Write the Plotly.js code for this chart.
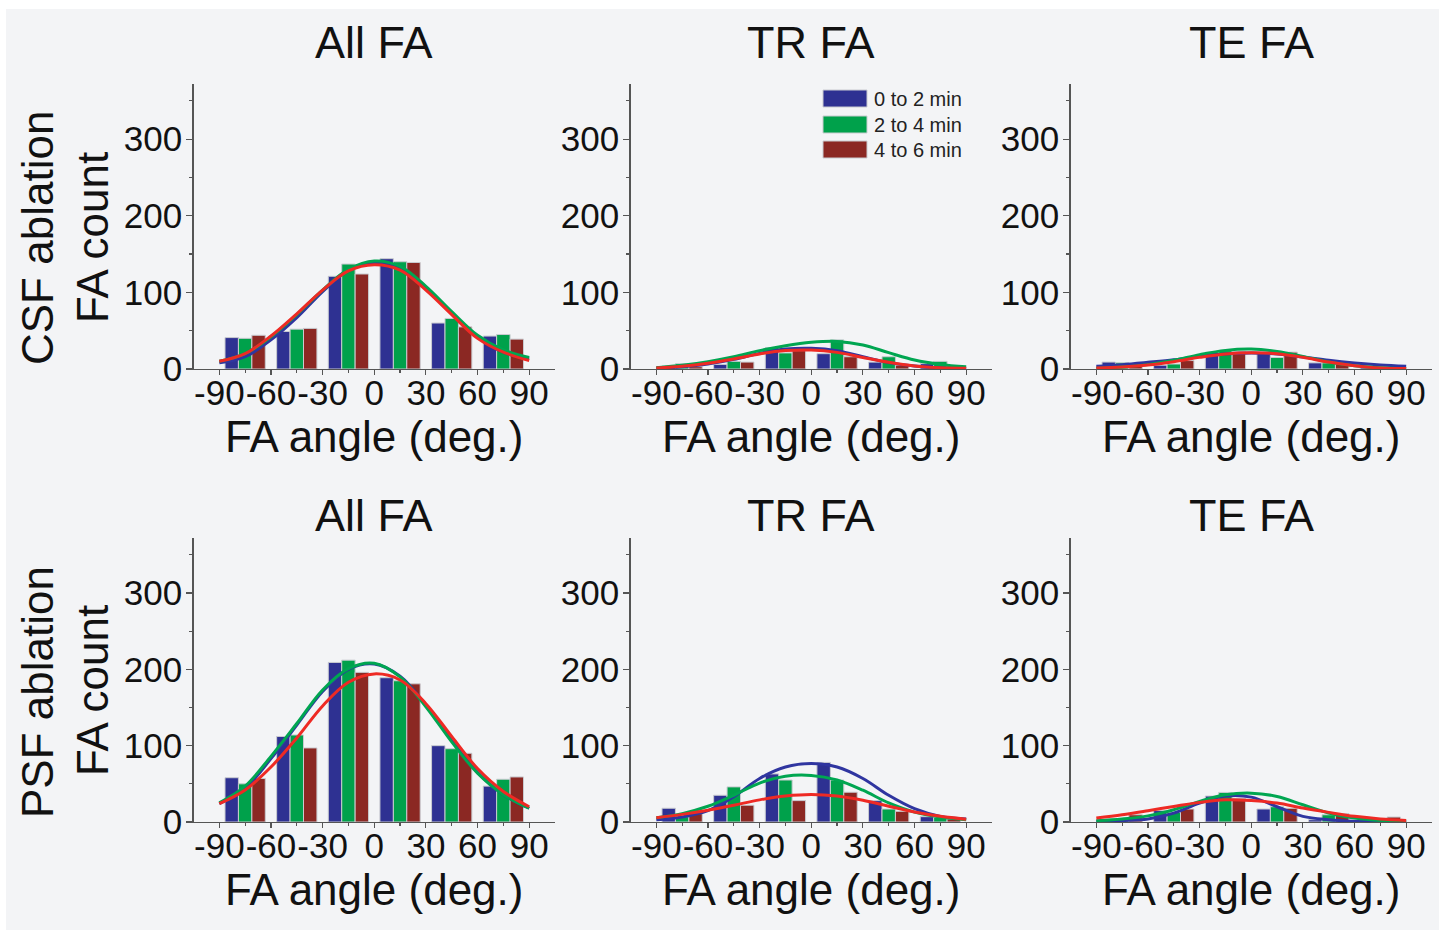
<!DOCTYPE html>
<html>
<head>
<meta charset="utf-8">
<script src="https://cdn.plot.ly/plotly-3.0.1.min.js"></script>
<style>
  html, body { margin: 0; padding: 0; background: #ffffff; }
  #chart { position: absolute; left: 6px; top: 9px; width: 1433px; height: 921px; }
</style>
</head>
<body>
<div id="chart"></div>
<script>
// ---------------- DATA ----------------
const binCenters = [-75, -45, -15, 15, 45, 75];
const fitX = [-90, -75, -60, -45, -30, -15, 0, 15, 30, 45, 60, 75, 90];
const xTickVals = [-90, -60, -30, 0, 30, 60, 90];
const xTickText = ['-90', '-60', '-30', '0', '30', '60', '90'];
const yTickVals = [0, 100, 200, 300];
const yTickText = ['0', '100', '200', '300'];
const seriesNames = ['0 to 2 min', '2 to 4 min', '4 to 6 min'];
const panelTitles = ['All FA', 'TR FA', 'TE FA'];
const rowTitles = ['CSF ablation', 'PSF ablation'];
const yTitle = 'FA count';
const xTitle = 'FA angle (deg.)';

// CSF ablation, All FA
const csfAllBlue  = [41, 49, 121, 144, 60, 43];
const csfAllGreen = [40, 52, 137, 140, 66, 45];
const csfAllRed   = [44, 53, 124, 139, 55, 39];
const csfAllFitBlue  = [8, 16, 38, 67, 101, 129, 139, 133, 106, 73, 42, 22, 13];
const csfAllFitGreen = [10, 20, 42, 71, 103, 130, 141, 134, 108, 75, 44, 25, 15];
const csfAllFitRed   = [10, 20, 43, 72, 103, 128, 136, 129, 103, 71, 40, 22, 11];

// CSF ablation, TR FA
const csfTrBlue  = [4, 6, 28, 20, 9, 7];
const csfTrGreen = [7, 10, 21, 38, 16, 10];
const csfTrRed   = [3, 9, 24, 16, 5, 4];
const csfTrFitBlue  = [1.3, 3, 6.5, 12.6, 20.4, 26, 27, 24, 16, 8.3, 4, 1.7, 1];
const csfTrFitGreen = [1.7, 4.8, 9.6, 16, 24, 30.4, 34.8, 36, 31.3, 21.3, 11.7, 6, 3];
const csfTrFitRed   = [1.3, 3.5, 7.4, 13, 19.6, 24, 24.8, 21.7, 15, 8.7, 4, 1.7, 1];

// CSF ablation, TE FA
const csfTeBlue  = [9, 5, 22, 21, 8, 2];
const csfTeGreen = [8, 6.5, 24, 15, 8, 2];
const csfTeRed   = [3.5, 11, 23, 22, 6.5, 2.6];
const csfTeFitBlue  = [3.5, 5.7, 8.7, 12, 16.5, 19.6, 21, 19.6, 15.7, 11.3, 7.8, 5.2, 3.5];
const csfTeFitGreen = [1, 2.6, 5.7, 11.3, 18.7, 24.3, 26, 23, 16.5, 9, 4.3, 1.7, 0.5];
const csfTeFitRed   = [1.3, 2.6, 5.2, 9.6, 15.2, 19.6, 21.3, 20, 15.2, 9, 4.3, 1.3, 0.5];

// PSF ablation, All FA
const psfAllBlue  = [58, 112, 209, 189, 100, 47];
const psfAllGreen = [50, 114, 212, 185, 96, 56];
const psfAllRed   = [57, 97, 196, 181, 90, 59];
const psfAllFitBlue  = [24, 44, 83, 127, 171, 200, 207, 191, 153, 107, 65, 36, 18];
const psfAllFitGreen = [25, 47, 86, 129, 173, 201, 208, 190, 151, 105, 64, 36, 18];
const psfAllFitRed   = [24, 42, 72, 110, 152, 183, 194, 186, 155, 112, 70, 40, 20];

// PSF ablation, TR FA
const psfTrBlue  = [18, 35, 63, 78, 28, 7];
const psfTrGreen = [7, 46, 55, 55, 17, 6];
const psfTrRed   = [11, 22, 28, 39, 14, 4];
const psfTrFitBlue  = [3, 6.6, 15, 33, 57, 72, 76.6, 72, 57, 35, 17.5, 7.4, 4];
const psfTrFitGreen = [5.7, 11, 20.6, 35, 51, 60, 61, 55, 41.6, 25, 13, 6.6, 3];
const psfTrFitRed   = [5.7, 10, 15.3, 22, 29, 34, 36, 34, 28.4, 20.6, 13, 7.4, 3.5];

// PSF ablation, TE FA
const psfTeBlue  = [2, 15, 34, 17, 3, 2];
const psfTeGreen = [3, 12.6, 38.7, 20, 9.5, 4];
const psfTeRed   = [9.5, 17, 31, 18, 11, 6.5];
const psfTeFitBlue  = [1, 2, 4, 11.7, 24.8, 34, 32.6, 20, 7.4, 3, 1, 0.5, 0.3];
const psfTeFitGreen = [1.7, 4, 8, 16, 27, 35.6, 37.8, 33.5, 22.6, 11.7, 5.2, 2, 1];
const psfTeFitRed   = [5.2, 9.5, 14.8, 20.4, 25.7, 29, 28, 24.8, 18.3, 12.6, 7.4, 4, 2];

const panels = [
  {bars: [csfAllBlue, csfAllGreen, csfAllRed], fits: [csfAllFitBlue, csfAllFitGreen, csfAllFitRed]},
  {bars: [csfTrBlue, csfTrGreen, csfTrRed],    fits: [csfTrFitBlue, csfTrFitGreen, csfTrFitRed]},
  {bars: [csfTeBlue, csfTeGreen, csfTeRed],    fits: [csfTeFitBlue, csfTeFitGreen, csfTeFitRed]},
  {bars: [psfAllBlue, psfAllGreen, psfAllRed], fits: [psfAllFitBlue, psfAllFitGreen, psfAllFitRed]},
  {bars: [psfTrBlue, psfTrGreen, psfTrRed],    fits: [psfTrFitBlue, psfTrFitGreen, psfTrFitRed]},
  {bars: [psfTeBlue, psfTeGreen, psfTeRed],    fits: [psfTeFitBlue, psfTeFitGreen, psfTeFitRed]}
];

// ---------------- STYLE / LAYOUT ----------------
const barColors = ['#2e3192', '#00a14b', '#8b2823'];
const lineColors = ['#2f35a0', '#00a651', '#ee2a24'];
const FONT = 'Liberation Sans, Arial, sans-serif';
const TXT = '#111111';

const W = 1433, H = 921, OX = 6, OY = 9;
const fx = px => (px - OX) / W;
const fy = py => 1 - (py - OY) / H;

const cols = [[193.5, 555], [630.5, 992], [1070.5, 1432]];
const rows = [[84, 369], [538, 822]];

const traces = [];
const layout = {
  width: W, height: H,
  margin: {l: 0, r: 0, t: 0, b: 0},
  paper_bgcolor: '#f3f4f6',
  plot_bgcolor: 'rgba(0,0,0,0)',
  barmode: 'group',
  bargap: 0.22,
  bargroupgap: 0,
  showlegend: false,
  font: {family: FONT, color: TXT},
  annotations: [],
  shapes: []
};

panels.forEach((p, i) => {
  const r = Math.floor(i / 3), c = i % 3;
  const n = i + 1;
  const xa = n === 1 ? 'x' : 'x' + n;
  const ya = n === 1 ? 'y' : 'y' + n;
  p.bars.forEach((vals, k) => {
    traces.push({
      type: 'bar', x: binCenters, y: vals, xaxis: xa, yaxis: ya,
      name: seriesNames[k], offsetgroup: String(k),
      marker: {color: barColors[k], line: {color: '#c9cbd0', width: 1}},
      hoverinfo: 'x+y+name'
    });
  });
  p.fits.forEach((vals, k) => {
    traces.push({
      type: 'scatter', mode: 'lines', x: fitX, y: vals, xaxis: xa, yaxis: ya,
      name: seriesNames[k] + ' fit',
      line: {color: lineColors[k], width: 3, shape: 'spline', smoothing: 1.0},
      hoverinfo: 'x+y+name'
    });
  });

  const xKey = n === 1 ? 'xaxis' : 'xaxis' + n;
  const yKey = n === 1 ? 'yaxis' : 'yaxis' + n;
  layout[xKey] = {
    domain: [fx(cols[c][0]), fx(cols[c][1])],
    anchor: ya, range: [-105, 105],
    tickmode: 'array', tickvals: xTickVals, ticktext: xTickText, tickangle: 0,
    ticks: 'outside', ticklen: 5, tickwidth: 1.2, tickcolor: '#555',
    ticklabelstandoff: -12,
    minor: {tickvals: [-75, -45, -15, 15, 45, 75], ticks: 'outside', ticklen: 3, tickwidth: 1.2, tickcolor: '#555'},
    showline: true, linecolor: '#555', linewidth: 1.3,
    showgrid: false, zeroline: false,
    tickfont: {family: FONT, size: 35, color: TXT},
    title: {text: xTitle, font: {family: FONT, size: 44, color: TXT}, standoff: 6},
    fixedrange: true
  };
  layout[yKey] = {
    domain: [fy(rows[r][1]), fy(rows[r][0])],
    anchor: xa, range: [0, 372],
    tickmode: 'array', tickvals: yTickVals, ticktext: yTickText,
    ticks: 'outside', ticklen: 6, tickwidth: 1.2, tickcolor: '#555',
    ticklabelstandoff: -3,
    minor: {tickvals: [50, 150, 250, 350], ticks: 'outside', ticklen: 3, tickwidth: 1.2, tickcolor: '#555'},
    showline: true, linecolor: '#555', linewidth: 1.3,
    showgrid: false, zeroline: false,
    tickfont: {family: FONT, size: 35, color: TXT},
    fixedrange: true
  };

  layout.annotations.push({
    xref: 'paper', yref: 'paper', x: fx((cols[c][0] + cols[c][1]) / 2), y: fy(r === 0 ? 42 : 515),
    xanchor: 'center', yanchor: 'middle', showarrow: false,
    text: panelTitles[c], font: {family: FONT, size: 45, color: TXT}
  });
});

[[238, 238], [692, 691]].forEach((yy, r) => {
  layout.annotations.push({
    xref: 'paper', yref: 'paper', x: fx(37), y: fy(yy[0]), xanchor: 'center', yanchor: 'middle',
    showarrow: false, textangle: -90, text: rowTitles[r], font: {family: FONT, size: 44, color: TXT}
  });
  layout.annotations.push({
    xref: 'paper', yref: 'paper', x: fx(92), y: fy(yy[1]), xanchor: 'center', yanchor: 'middle',
    showarrow: false, textangle: -90, text: yTitle, font: {family: FONT, size: 44, color: TXT}
  });
});

[[90, 107], [116, 133], [141, 158]].forEach((yy, k) => {
  layout.shapes.push({
    type: 'rect', xref: 'paper', yref: 'paper',
    x0: fx(823), x1: fx(867), y0: fy(yy[1]), y1: fy(yy[0]),
    fillcolor: barColors[k], line: {color: '#c9cbd0', width: 1}
  });
  layout.annotations.push({
    xref: 'paper', yref: 'paper', x: fx(872), y: fy((yy[0] + yy[1]) / 2),
    xanchor: 'left', yanchor: 'middle', showarrow: false,
    text: seriesNames[k], font: {family: FONT, size: 20, color: '#222'}
  });
});

Plotly.newPlot('chart', traces, layout, {displayModeBar: false, staticPlot: true});
</script>
</body>
</html>
